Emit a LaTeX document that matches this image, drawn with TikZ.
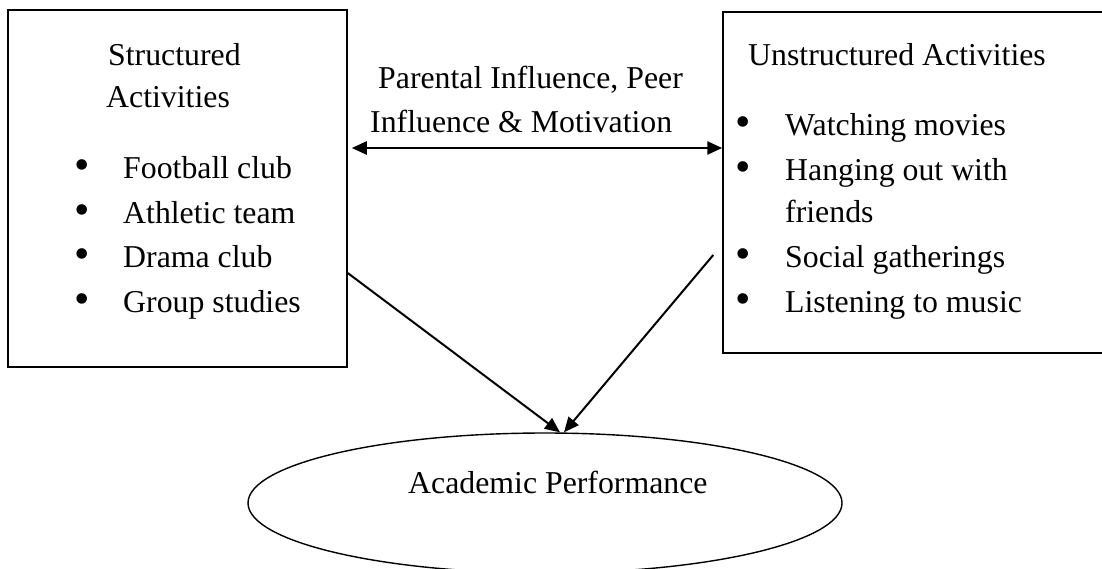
\documentclass[tikz,border=0pt]{standalone}
\usepackage{fontspec}
\setmainfont{Liberation Serif}
\usetikzlibrary{arrows.meta,shapes.geometric}
\tikzset{
  box/.style={draw, line width=1.5pt, inner sep=0pt},
  txt/.style={anchor=base west, inner sep=0pt, font=\fontsize{31.8pt}{44.7pt}\selectfont},
  bul/.style={anchor=center, inner sep=0pt, yshift=8pt, font=\fontsize{44pt}{44pt}\selectfont},
  conn/.style={line width=2pt, -{Triangle[length=15pt,width=13pt]}},
  biconn/.style={line width=2.4pt, {Triangle[length=15pt,width=13pt]}-{Triangle[length=15pt,width=13pt]}},
}
\begin{document}
\begin{tikzpicture}[x=1pt,y=-1pt]
\useasboundingbox (0,0) rectangle (1102,568);
\clip (0,0) rectangle (1102,568);
% boxes
\node[box, minimum width=339pt, minimum height=357pt] (lbox) at (177.5,188.5) {};
\node[box, minimum width=390pt, minimum height=341pt] (rbox) at (918,182.5) {};
\node[draw, line width=1.4pt, ellipse, minimum width=594pt, minimum height=140pt, inner sep=0pt] (perf) at (545,503) {};
% left box text
\node[txt] (lt1) at (108,65) {Structured};
\node[txt] (lt2) at (106,107) {Activities};
\node[bul] (lb1) at (82.5,178) {•};
\node[bul] (lb2) at (82.5,223) {•};
\node[bul] (lb3) at (82.5,267) {•};
\node[bul] (lb4) at (82.5,312) {•};
\node[txt] (li1) at (123,178) {Football club};
\node[txt] (li2) at (123,223) {Athletic team};
\node[txt] (li3) at (123,267) {Drama club};
\node[txt] (li4) at (123,312) {Group studies};
% right box text
\node[txt] (rt1) at (748,65) {Unstructured Activities};
\node[bul] (rb1) at (743.5,135) {•};
\node[bul] (rb2) at (743.5,180) {•};
\node[bul] (rb3) at (743.5,267) {•};
\node[bul] (rb4) at (743.5,312) {•};
\node[txt] (ri1) at (785,135) {Watching movies};
\node[txt] (ri2) at (785,180) {Hanging out with};
\node[txt] (ri2b) at (785,222) {friends};
\node[txt] (ri3) at (785,267) {Social gatherings};
\node[txt] (ri4) at (785,312) {Listening to music};
% middle label
\node[txt] (m1) at (378,88) {Parental Influence, Peer};
\node[txt] (m2) at (370,132) {Influence \& Motivation};
% ellipse text
\node[txt] (pl) at (408,493) {Academic Performance};
% connectors
\draw[biconn] ([xshift=4pt]lbox.east |- 0,148) -- (rbox.west |- 0,148);
\draw[conn] (lbox.east |- 0,273) -- ([xshift=15pt]perf.north);
\draw[conn] ([xshift=-9pt]rbox.west |- 0,255) -- ([xshift=19pt]perf.north);
\end{tikzpicture}
\end{document}
